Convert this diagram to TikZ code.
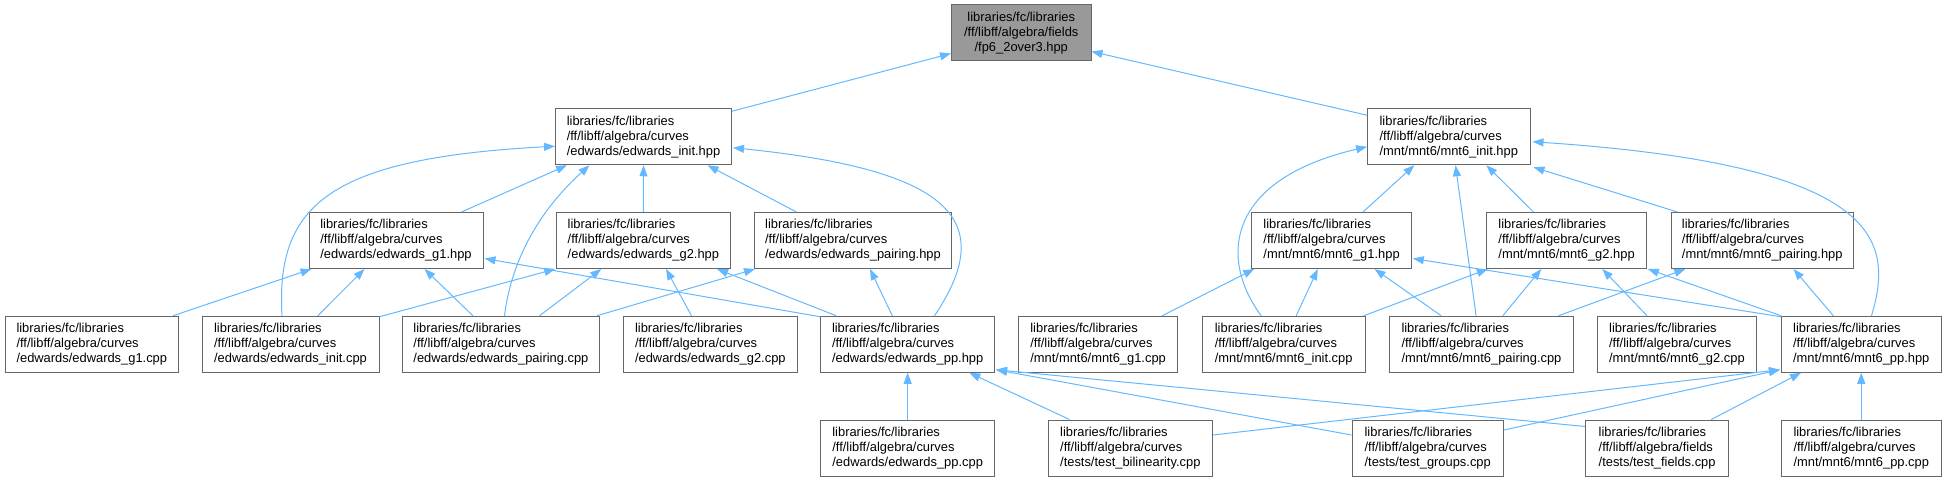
\documentclass[tikz,border=0pt]{standalone}
\usepackage{fontspec}
\setmainfont{Liberation Sans}
\usetikzlibrary{arrows.meta,calc}
\definecolor{edgec}{HTML}{63B8FF}
\definecolor{boxb}{HTML}{666666}
\definecolor{boxf}{HTML}{999999}
\begin{document}
\begin{tikzpicture}[x=1pt,y=-1pt,
 gbox/.style={draw=boxb, fill=white, line width=1pt, inner sep=0pt, minimum height=56pt, align=left, font=\fontsize{12.9}{15}\selectfont},
 rootbox/.style={gbox, fill=boxf, align=center, minimum height=56.3pt},
 dep/.style={draw=edgec, line width=1pt, -{Triangle[length=11pt,width=8pt]}}]
\useasboundingbox (0,0) rectangle (1946,481);
% row 0
\node[rootbox, minimum width=139.5pt] (fp6) at (1021.25,32.85) {libraries/fc/libraries\\/ff/libff/algebra/fields\\/fp6\_2over3.hpp};
% row 1
\node[gbox, minimum width=176pt] (ei_hpp) at (643.5,136.75) {libraries/fc/libraries\\/ff/libff/algebra/curves\\/edwards/edwards\_init.hpp};
\node[gbox, minimum width=162.4pt] (mi_hpp) at (1448.8,136.75) {libraries/fc/libraries\\/ff/libff/algebra/curves\\/mnt/mnt6/mnt6\_init.hpp};
% row 2
\node[gbox, minimum width=174pt] (eg1_hpp) at (396,240.5) {libraries/fc/libraries\\/ff/libff/algebra/curves\\/edwards/edwards\_g1.hpp};
\node[gbox, minimum width=173.2pt] (eg2_hpp) at (643.4,240.5) {libraries/fc/libraries\\/ff/libff/algebra/curves\\/edwards/edwards\_g2.hpp};
\node[gbox, minimum width=197pt] (ep_hpp) at (853,240.5) {libraries/fc/libraries\\/ff/libff/algebra/curves\\/edwards/edwards\_pairing.hpp};
\node[gbox, minimum width=159.5pt] (mg1_hpp) at (1331.55,240.5) {libraries/fc/libraries\\/ff/libff/algebra/curves\\/mnt/mnt6/mnt6\_g1.hpp};
\node[gbox, minimum width=159.5pt] (mg2_hpp) at (1566.55,240.5) {libraries/fc/libraries\\/ff/libff/algebra/curves\\/mnt/mnt6/mnt6\_g2.hpp};
\node[gbox, minimum width=182.5pt] (mp_hpp) at (1762.25,240.5) {libraries/fc/libraries\\/ff/libff/algebra/curves\\/mnt/mnt6/mnt6\_pairing.hpp};
% row 3
\node[gbox, minimum width=173.6pt] (eg1_cpp) at (91.8,344.25) {libraries/fc/libraries\\/ff/libff/algebra/curves\\/edwards/edwards\_g1.cpp};
\node[gbox, minimum width=177pt] (ei_cpp) at (290.5,344.25) {libraries/fc/libraries\\/ff/libff/algebra/curves\\/edwards/edwards\_init.cpp};
\node[gbox, minimum width=197.1pt] (epair_cpp) at (500.95,344.25) {libraries/fc/libraries\\/ff/libff/algebra/curves\\/edwards/edwards\_pairing.cpp};
\node[gbox, minimum width=173.3pt] (eg2_cpp) at (710.35,344.25) {libraries/fc/libraries\\/ff/libff/algebra/curves\\/edwards/edwards\_g2.cpp};
\node[gbox, minimum width=173.7pt] (epp_hpp) at (907.65,344.25) {libraries/fc/libraries\\/ff/libff/algebra/curves\\/edwards/edwards\_pp.hpp};
\node[gbox, minimum width=158.8pt] (mg1_cpp) at (1098.1,344.25) {libraries/fc/libraries\\/ff/libff/algebra/curves\\/mnt/mnt6/mnt6\_g1.cpp};
\node[gbox, minimum width=162.6pt] (mi_cpp) at (1283.7,344.25) {libraries/fc/libraries\\/ff/libff/algebra/curves\\/mnt/mnt6/mnt6\_init.cpp};
\node[gbox, minimum width=183.1pt] (mpair_cpp) at (1481.45,344.25) {libraries/fc/libraries\\/ff/libff/algebra/curves\\/mnt/mnt6/mnt6\_pairing.cpp};
\node[gbox, minimum width=158.2pt] (mg2_cpp) at (1676.9,344.25) {libraries/fc/libraries\\/ff/libff/algebra/curves\\/mnt/mnt6/mnt6\_g2.cpp};
\node[gbox, minimum width=159.5pt] (mpp_hpp) at (1861.25,344.25) {libraries/fc/libraries\\/ff/libff/algebra/curves\\/mnt/mnt6/mnt6\_pp.hpp};
% row 4
\node[gbox, minimum width=173.7pt] (epp_cpp) at (907.65,448) {libraries/fc/libraries\\/ff/libff/algebra/curves\\/edwards/edwards\_pp.cpp};
\node[gbox, minimum width=164.6pt] (tb_cpp) at (1130.3,448) {libraries/fc/libraries\\/ff/libff/algebra/curves\\/tests/test\_bilinearity.cpp};
\node[gbox, minimum width=151.4pt] (tg_cpp) at (1427.7,448) {libraries/fc/libraries\\/ff/libff/algebra/curves\\/tests/test\_groups.cpp};
\node[gbox, minimum width=142.8pt] (tf_cpp) at (1657.1,448) {libraries/fc/libraries\\/ff/libff/algebra/fields\\/tests/test\_fields.cpp};
\node[gbox, minimum width=159.5pt] (mpp_cpp) at (1861.25,448) {libraries/fc/libraries\\/ff/libff/algebra/curves\\/mnt/mnt6/mnt6\_pp.cpp};
% edges to fp6
\draw[dep] ($(ei_hpp.north east)+(0,3)$) -- ($(fp6.south west)+(0,-8)$);
\draw[dep] ($(mi_hpp.north west)+(0,7)$) -- ($(fp6.south east)+(0,-10)$);
% edges to edwards_init.hpp
\draw[dep] ($(eg1_hpp.north west)+(153,0)$) -- ($(ei_hpp.south west)+(12,0)$);
\draw[dep] (eg2_hpp.north) -- (ei_hpp.south);
\draw[dep] ($(ep_hpp.north west)+(42.5,0)$) -- ($(ei_hpp.south west)+(152.5,0)$);
\draw[dep] ($(ei_cpp.north west)+(80.5,0)$) .. controls +(-6.5,-111) and +(-225.5,12) .. ($(ei_hpp.west)+(0,9.5)$);
\draw[dep] ($(epair_cpp.north west)+(102.6,0)$) .. controls +(7,-56.25) and +(-50,45.25) .. ($(ei_hpp.south west)+(34.5,0)$);
\draw[dep] ($(epp_hpp.north west)+(114.2,0)$) .. controls +(65,-96.25) and +(216.5,22) .. ($(ei_hpp.east)+(1,11)$);
% edges to edwards_g1.hpp
\draw[dep] ($(eg1_cpp.north west)+(168.5,0)$) -- ($(eg1_hpp.south west)+(3,0)$);
\draw[dep] ($(ei_cpp.north west)+(116.3,0)$) -- ($(eg1_hpp.south west)+(56,0)$);
\draw[dep] ($(epair_cpp.north west)+(71,0)$) -- ($(eg1_hpp.south west)+(116,0)$);
\draw[dep] ($(epp_hpp.north west)+(0,1)$) -- ($(eg1_hpp.east)+(1,18)$);
% edges to edwards_g2.hpp
\draw[dep] ($(ei_cpp.north east)+(0,1)$) -- ($(eg2_hpp.south west)+(-1,0)$);
\draw[dep] ($(epair_cpp.north west)+(137.6,0)$) -- ($(eg2_hpp.south west)+(45,0)$);
\draw[dep] ($(eg2_cpp.north west)+(68.3,0)$) -- ($(eg2_hpp.south west)+(109.7,0)$);
\draw[dep] ($(epp_hpp.north west)+(16,0)$) -- ($(eg2_hpp.south west)+(160.7,0)$);
% edges to edwards_pairing.hpp
\draw[dep] ($(epair_cpp.north east)+(-3,0)$) -- ($(ep_hpp.south west)+(1,0)$);
\draw[dep] ($(epp_hpp.north west)+(72,0)$) -- ($(ep_hpp.south west)+(116,0)$);
% edges to edwards_pp.hpp
\draw[dep] (epp_cpp.north) -- (epp_hpp.south);
\draw[dep] ($(tb_cpp.north west)+(22,0)$) -- ($(epp_hpp.south west)+(149,0)$);
\draw[dep] ($(tg_cpp.west)+(0,-13)$) -- ($(epp_hpp.south east)+(1,-3)$);
\draw[dep] ($(tf_cpp.north west)+(0,7)$) -- ($(epp_hpp.south east)+(1,-3)$);
% edges to mnt6_init.hpp
\draw[dep] ($(mg1_hpp.north west)+(111.7,0)$) -- ($(mi_hpp.south west)+(47.2,0)$);
\draw[dep] ($(mpair_cpp.north west)+(86.7,0)$) -- ($(mi_hpp.south west)+(88.4,0)$);
\draw[dep] ($(mg2_hpp.north west)+(47.2,0)$) -- ($(mi_hpp.south west)+(119.2,0)$);
\draw[dep] ($(mp_hpp.north west)+(7,0)$) -- ($(mi_hpp.south east)+(3,2)$);
\draw[dep] ($(mi_cpp.north west)+(59.3,0)$) .. controls +(-41.7,-56) and +(-142.6,33.25) .. ($(mi_hpp.west)+(0,10)$);
\draw[dep] ($(mpp_hpp.north west)+(90.5,0)$) .. controls +(23,-76.25) and +(348,23.25) .. ($(mi_hpp.east)+(2,5)$);
% edges to mnt6_g1.hpp
\draw[dep] ($(mg1_cpp.north west)+(144,0)$) -- ($(mg1_hpp.south west)+(3,0)$);
\draw[dep] ($(mi_cpp.north west)+(94.3,0)$) -- ($(mg1_hpp.south west)+(66.5,0)$);
\draw[dep] ($(mpair_cpp.north west)+(51.8,0)$) -- ($(mg1_hpp.south west)+(123.2,0)$);
\draw[dep] ($(mpp_hpp.north west)+(0,1)$) -- ($(mg1_hpp.east)+(1,18)$);
% edges to mnt6_g2.hpp
\draw[dep] ($(mi_cpp.north east)+(-1.7,0)$) -- ($(mg2_hpp.south west)+(1.5,0)$);
\draw[dep] ($(mpair_cpp.north west)+(113.4,0)$) -- ($(mg2_hpp.south west)+(55,0)$);
\draw[dep] ($(mg2_cpp.north west)+(49.7,0)$) -- ($(mg2_hpp.south west)+(116,0)$);
\draw[dep] (mpp_hpp.north west) -- ($(mg2_hpp.south east)+(1,0)$);
% edges to mnt6_pairing.hpp
\draw[dep] ($(mpair_cpp.north east)+(-15,0)$) -- ($(mp_hpp.south west)+(14.8,0)$);
\draw[dep] ($(mpp_hpp.north west)+(52.3,0)$) -- ($(mp_hpp.south west)+(123,0)$);
% edges to mnt6_pp.hpp
\draw[dep] (mpp_cpp.north) -- (mpp_hpp.south);
\draw[dep] ($(tb_cpp.east)+(0,-13)$) -- ($(mpp_hpp.south west)+(-1,-3)$);
\draw[dep] ($(tg_cpp.east)+(0,-18)$) -- ($(mpp_hpp.south west)+(-1,-3)$);
\draw[dep] ($(tf_cpp.north west)+(126,0)$) -- ($(mpp_hpp.south west)+(20,0)$);
\end{tikzpicture}
\end{document}
